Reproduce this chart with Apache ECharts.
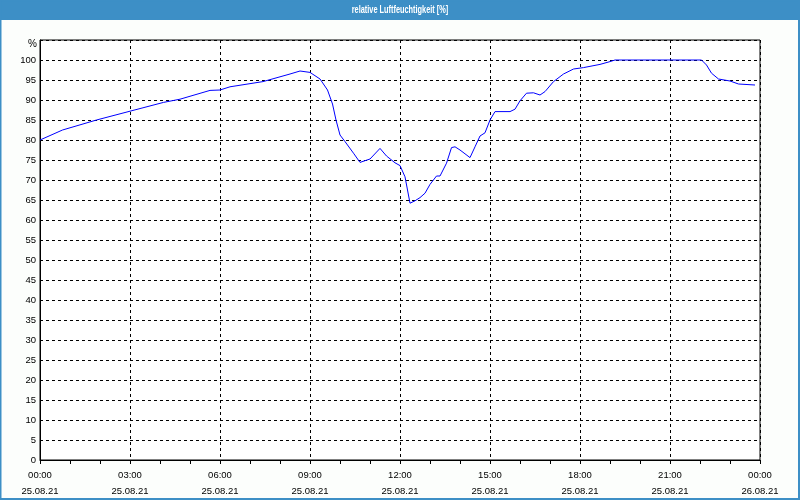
<!DOCTYPE html>
<html>
<head>
<meta charset="utf-8">
<script src="https://cdn.jsdelivr.net/npm/echarts@6/dist/echarts.min.js"></script>
<style>
html,body{margin:0;padding:0;background:#fcfefc;}
#chart{width:800px;height:500px;}
</style>
</head>
<body>
<div id="chart"></div>
<script>
var chartTitle = 'relative Luftfeuchtigkeit [%]';
var yUnit = '%';
var startDate = '25.08.21';
var endDate = '26.08.21';
var times = ['00:00','00:45','01:53','03:00','04:07','04:40','05:40','06:00','06:20','07:26','08:20','08:40','09:00','09:20','09:35','09:45','09:52','10:00','10:10','10:27','10:40','11:00','11:20','11:33','11:50','12:00','12:10','12:20','12:30','12:40','12:50','13:00','13:13','13:20','13:33','13:43','13:50','14:00','14:20','14:30','14:40','14:50','15:00','15:10','15:40','15:50','16:00','16:13','16:27','16:40','16:50','17:07','17:27','17:47','18:07','18:40','19:00','19:10','22:03','22:13','22:23','22:37','23:00','23:17','23:50'];
var humidity = [80,82.5,85,87.2,89.4,90.2,92.4,92.5,93.3,94.6,96.5,97.25,96.9,95.25,92.5,89,85,81.25,79.6,76.7,74.4,75.25,77.9,76,74.3,73.6,70.8,64.2,64.8,65.6,66.7,68.9,71,71,74.2,78.1,78.3,77.5,75.6,78.3,81,81.8,85,87.1,87.1,87.7,89.8,91.7,91.8,91.25,92.1,94.6,96.5,97.75,98.1,98.9,99.6,100,100,98.75,96.7,95.25,94.75,94,93.75];

function toHours(t){var p=t.split(':');return (+p[0])+(+p[1])/60;}
var seriesData = times.map(function(t,i){return [toHours(t), humidity[i]];});

var chart = echarts.init(document.getElementById('chart'));
var font = '"Liberation Sans", Arial, sans-serif';
chart.setOption({
  backgroundColor:'#fcfefc',
  animation:false,
  graphic:[
    {type:'rect', shape:{x:0,y:0,width:800,height:20}, style:{fill:'#3d8fc6'}, z:10},
    {type:'rect', shape:{x:0.5,y:0.5,width:798.5,height:498.5}, style:{fill:null, stroke:'#3d8fc6', lineWidth:2}, z:10},
    {type:'text', x:400, y:10, scaleX:0.67, style:{text:chartTitle, fill:'#ffffff', font:'bold 11px '+font, textAlign:'center', textVerticalAlign:'middle'}, z:11},
    {type:'text', x:37, y:44, style:{text:yUnit, fill:'#000', font:'10px '+font, textAlign:'right', textVerticalAlign:'middle'}, z:11}
  ],
  grid:{left:40,right:40,top:40,bottom:40,show:true,borderColor:'#000',borderWidth:1,backgroundColor:'#ffffff'},
  xAxis:{
    type:'value', min:0, max:24, interval:3,
    axisLine:{show:true,lineStyle:{color:'#000',width:1}},
    axisTick:{show:true,length:4,lineStyle:{color:'#000'}},
    minorTick:{show:true,splitNumber:3,length:4,lineStyle:{color:'#000'}},
    splitLine:{show:true,lineStyle:{color:'#000',type:[3,3],width:1}},
    axisLabel:{color:'#000',fontSize:9.5,fontFamily:font,lineHeight:16,margin:7,
      formatter:function(v){var h=v%24;var hs=(h<10?'0':'')+h+':00';return hs+'\n'+(v>=24?endDate:startDate);}}
  },
  yAxis:{
    type:'value', min:0, max:105, interval:5,
    axisLine:{show:true,lineStyle:{color:'#000',width:1}},
    axisTick:{show:false},
    splitLine:{show:true,lineStyle:{color:'#000',type:[3,3],width:1}},
    axisLabel:{color:'#000',fontSize:9.5,fontFamily:font,margin:4,
      formatter:function(v){return v>100?'':String(v);}}
  },
  series:[{
    type:'line', data:seriesData, showSymbol:false, smooth:false,
    lineStyle:{color:'#0000ff',width:1}, itemStyle:{color:'#0000ff'}
  }]
});
</script>
</body>
</html>
